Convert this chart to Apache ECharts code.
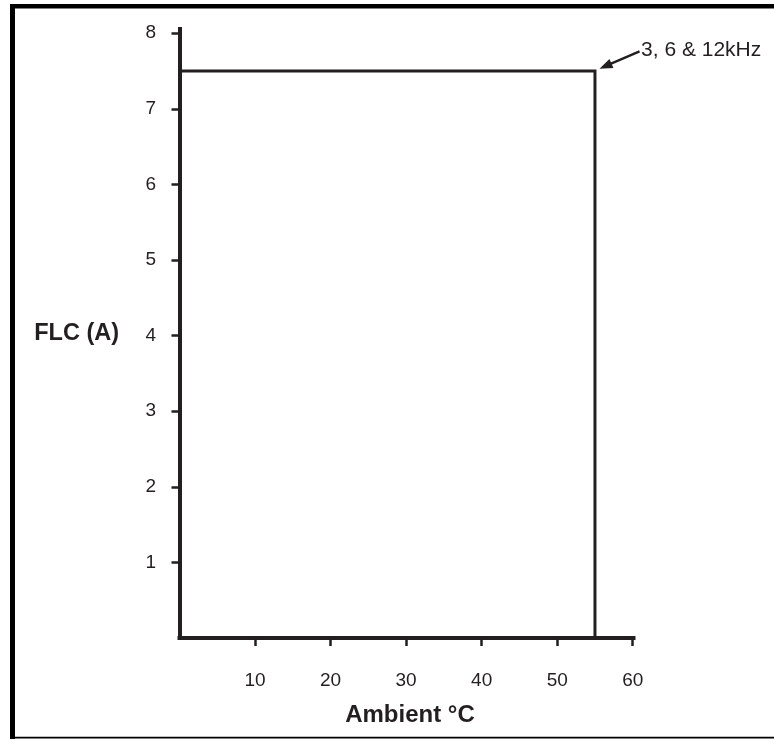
<!DOCTYPE html>
<html>
<head>
<meta charset="utf-8">
<script src="https://cdn.jsdelivr.net/npm/echarts@6/dist/echarts.min.js"></script>
<style>
html,body{margin:0;padding:0;background:#fff;}
#chart{width:774px;height:739px;}
</style>
</head>
<body>
<div id="chart"></div>
<script>
// Data
const curveName = '3, 6 & 12kHz';
const ambientC = [0, 55, 55];
const flcA = [7.5, 7.5, 0];
const xTickValues = [10, 20, 30, 40, 50, 60];
const yTickValues = [1, 2, 3, 4, 5, 6, 7, 8];
const xAxisTitle = 'Ambient °C';
const yAxisTitle = 'FLC (A)';
// annotation arrow: tip near the corner point, tail near the label (data units)
const arrowTip = [55.6, 7.53];
const arrowTail = [60.9, 7.76];
const labelAnchor = [61.1, 7.775];

const FONT = '"Liberation Sans", Arial, sans-serif';
const INK = '#231f20';

const chart = echarts.init(document.getElementById('chart'), null, {renderer: 'canvas'});

const seriesData = ambientC.map((x, i) => [x, flcA[i]]);

const frame = [
  {type: 'rect', shape: {x: 10, y: 4, width: 5, height: 735}, style: {fill: '#000'}, silent: true},
  {type: 'rect', shape: {x: 10, y: 4, width: 764, height: 4.5}, style: {fill: '#000'}, silent: true},
  {type: 'rect', shape: {x: 10, y: 736.8, width: 764, height: 1.8}, style: {fill: '#000'}, silent: true}
];

chart.setOption({
  backgroundColor: '#fff',
  animation: false,
  grid: {left: 179.5, right: 140.5, top: 29, bottom: 101, containLabel: false},
  xAxis: {
    type: 'value', min: 0, max: 60.1, interval: 10,
    name: xAxisTitle, nameLocation: 'middle', nameGap: 65,
    nameTextStyle: {fontFamily: FONT, fontSize: 24, fontWeight: 'bold', color: INK, padding: [0, 0, 0, 7]},
    axisLine: {show: true, lineStyle: {color: INK, width: 4, cap: 'square'}},
    axisTick: {show: true, length: 8, lineStyle: {color: INK, width: 2.5}, customValues: xTickValues},
    axisLabel: {fontFamily: FONT, fontSize: 19, color: INK, margin: 33, customValues: xTickValues},
    splitLine: {show: false}
  },
  yAxis: {
    type: 'value', min: 0, max: 8.055, interval: 1,
    name: yAxisTitle, nameLocation: 'middle', nameGap: 60.5, nameRotate: 0,
    nameTextStyle: {fontFamily: FONT, fontSize: 23.5, fontWeight: 'bold', color: INK, padding: [0, 0, 16, 0]},
    axisLine: {show: true, lineStyle: {color: INK, width: 4, cap: 'square'}},
    axisTick: {show: true, length: 8, lineStyle: {color: INK, width: 2.5}, customValues: yTickValues},
    axisLabel: {fontFamily: FONT, fontSize: 19, color: INK, margin: 23.5, customValues: yTickValues},
    splitLine: {show: false}
  },
  series: [{
    name: curveName,
    type: 'line',
    data: seriesData,
    showSymbol: false,
    symbol: 'none',
    lineStyle: {color: INK, width: 3, join: 'miter'},
    silent: true
  }],
  graphic: frame
});

// Annotation placed through the chart's own scales
const tip = chart.convertToPixel({seriesIndex: 0}, arrowTip);
const tail = chart.convertToPixel({seriesIndex: 0}, arrowTail);
const anchor = chart.convertToPixel({seriesIndex: 0}, labelAnchor);
const dx = tail[0] - tip[0], dy = tail[1] - tip[1];
const len = Math.sqrt(dx * dx + dy * dy);
const ux = dx / len, uy = dy / len;
const headLen = 13, headHalf = 5;
const base = [tip[0] + ux * headLen, tip[1] + uy * headLen];
const head = [
  tip,
  [base[0] - uy * headHalf, base[1] + ux * headHalf],
  [base[0] + uy * headHalf, base[1] - ux * headHalf]
];

chart.setOption({
  graphic: frame.concat([
    {type: 'line', silent: true,
      shape: {x1: base[0] - ux * 1, y1: base[1] - uy * 1, x2: tail[0], y2: tail[1]},
      style: {stroke: INK, lineWidth: 2.4}},
    {type: 'polygon', silent: true, shape: {points: head}, style: {fill: INK}},
    {type: 'text', silent: true, x: anchor[0], y: anchor[1],
      style: {text: curveName, fontFamily: FONT, fontSize: 21, fill: INK,
        align: 'left', verticalAlign: 'middle'}}
  ])
}, {replaceMerge: ['graphic']});
</script>
</body>
</html>
